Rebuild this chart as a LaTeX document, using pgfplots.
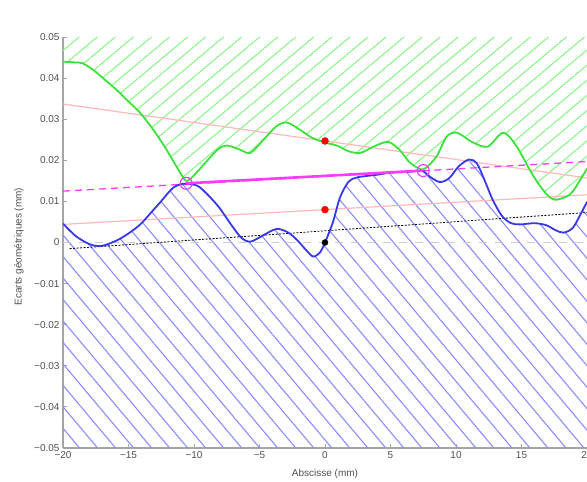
\documentclass[border=0pt]{standalone}
\usepackage{pgfplots}
\pgfplotsset{compat=1.18}
\usepgfplotslibrary{fillbetween}
\usetikzlibrary{patterns.meta}
\usepackage{fontspec}
\setmainfont{Liberation Sans}
\definecolor{gcurve}{RGB}{60,225,60}
\definecolor{ghatch}{RGB}{140,245,140}
\definecolor{bcurve}{RGB}{55,55,235}
\definecolor{bhatch}{RGB}{140,140,250}
\definecolor{pinkline}{RGB}{255,185,185}
\definecolor{mag}{RGB}{250,60,250}
\definecolor{axgray}{RGB}{165,165,165}
\definecolor{tickgray}{RGB}{80,80,80}
\begin{document}
\begin{tikzpicture}
\begin{axis}[
  at={(0,0)}, anchor=south west,
  scale only axis, width=524pt, height=411pt,
  xmin=-20, xmax=20, ymin=-0.05, ymax=0.05,
  axis x line*=bottom, axis y line*=left,
  axis line style={draw=axgray, line width=1.2pt, -},
  tick style={draw=axgray, line width=0.8pt},
  tick align=inside, major tick length=4pt,
  xtick={-20,-15,-10,-5,0,5,10,15,20},
  xticklabels={−20,−15,−10,−5,0,5,10,15,20},
  ytick={-0.05,-0.04,-0.03,-0.02,-0.01,0,0.01,0.02,0.03,0.04,0.05},
  yticklabels={−0.05,−0.04,−0.03,−0.02,−0.01,0,0.01,0.02,0.03,0.04,0.05},
  scaled y ticks=false,
  ticklabel style={font=\fontsize{10}{12}\selectfont, text=tickgray},
  xlabel={Abscisse (mm)},
  ylabel={Ecarts géométriques (mm)},
  label style={font=\fontsize{10}{12}\selectfont, text=tickgray},
  xlabel style={at={(axis description cs:0.5,-0.063)}, anchor=center},
  ylabel style={at={(axis description cs:-0.084,0.49)}, anchor=center, rotate=0},
  clip=true,
]
\addplot[name path=top, draw=none, forget plot] coordinates {(-20,0.05) (20,0.05)};
\addplot[name path=bot, draw=none, forget plot] coordinates {(-20,-0.05) (20,-0.05)};
\addplot[name path=green, draw=none, smooth, forget plot] coordinates {
(-20,0.0440)(-19,0.0438)(-18.5,0.0436)(-17.7,0.0420)(-16.8,0.0396)(-15.9,0.0371)(-15,0.0343)(-14.1,0.0315)(-13.1,0.0274)(-12.1,0.0226)(-11.1,0.0172)(-10.6,0.0150)(-10.1,0.0160)(-9.3,0.0188)(-8.2,0.0226)(-7.5,0.0236)(-6.5,0.0226)(-5.7,0.0218)(-4.7,0.0250)(-3.7,0.0283)(-2.9,0.0292)(-1.9,0.0274)(-1.0,0.0255)(0,0.0243)(0.9,0.0236)(1.8,0.0222)(2.7,0.0218)(3.7,0.0233)(4.8,0.0245)(5.7,0.0225)(6.5,0.0194)(7.5,0.0178)(8.5,0.0209)(9.3,0.0258)(10.1,0.0267)(11.2,0.0245)(12.4,0.0233)(13.6,0.0267)(14.6,0.0235)(15.9,0.0162)(16.9,0.0118)(17.6,0.0104)(18.7,0.0117)(19.5,0.0153)(20,0.0180)};
\addplot[name path=blue, draw=none, smooth, forget plot] coordinates {
(-20,0.0046)(-19,0.0015)(-17.9,-0.0005)(-17,-0.0008)(-15.9,0.0005)(-15,0.0022)(-14.1,0.0044)(-13.3,0.0072)(-12.6,0.0097)(-11.6,0.0133)(-10.8,0.0143)(-10.2,0.0142)(-9.5,0.0133)(-8.2,0.0090)(-7.2,0.0045)(-6.4,0.0012)(-5.7,0.0002)(-4.8,0.0016)(-3.7,0.0033)(-2.8,0.0024)(-2.1,0.0005)(-1.4,-0.0020)(-0.9,-0.0034)(-0.4,-0.0025)(0,0.0000)(0.6,0.0049)(1.15,0.0110)(1.8,0.0148)(2.4,0.0158)(3.2,0.0162)(4.0,0.0165)(5.0,0.0170)(5.7,0.0171)(6.4,0.0172)(7.0,0.0174)(7.5,0.0173)(8.1,0.0158)(8.8,0.0147)(9.5,0.0157)(10.2,0.0185)(11.0,0.0202)(11.6,0.0192)(12.2,0.0150)(12.8,0.0104)(13.5,0.0065)(14.2,0.0047)(14.9,0.0044)(16.0,0.0047)(16.9,0.0042)(17.6,0.0030)(18.2,0.0024)(18.9,0.0035)(19.5,0.0068)(20,0.0099)};
\addplot[pattern={Lines[angle=40,distance=11.6pt,line width=1.1pt]}, pattern color=ghatch, draw=none, forget plot] fill between[of=green and top];
\addplot[pattern={Lines[angle=-50,distance=13.8pt,line width=1.1pt]}, pattern color=bhatch, draw=none, forget plot] fill between[of=blue and bot];
% pink lines
\addplot[pinkline, line width=1.2pt] coordinates {(-20,0.0337)(20,0.0157)};
\addplot[pinkline, line width=1.2pt] coordinates {(-20,0.0044)(20,0.0116)};
% zero line
\addplot[gray!40, line width=1pt, dash pattern=on 8pt off 8pt] coordinates {(-20,0)(20,0)};
% black dotted
\addplot[black, line width=0.8pt, dash pattern=on 2pt off 1.5pt] coordinates {(-19.5,-0.0015)(20,0.0073)};
% magenta
\addplot[mag, line width=1.3pt, dash pattern=on 7pt off 5pt] coordinates {(-20,0.0125)(20,0.0197)};
% curves
\addplot[gcurve, line width=1.8pt, smooth] coordinates {
(-20,0.0440)(-19,0.0438)(-18.5,0.0436)(-17.7,0.0420)(-16.8,0.0396)(-15.9,0.0371)(-15,0.0343)(-14.1,0.0315)(-13.1,0.0274)(-12.1,0.0226)(-11.1,0.0172)(-10.6,0.0150)(-10.1,0.0160)(-9.3,0.0188)(-8.2,0.0226)(-7.5,0.0236)(-6.5,0.0226)(-5.7,0.0218)(-4.7,0.0250)(-3.7,0.0283)(-2.9,0.0292)(-1.9,0.0274)(-1.0,0.0255)(0,0.0243)(0.9,0.0236)(1.8,0.0222)(2.7,0.0218)(3.7,0.0233)(4.8,0.0245)(5.7,0.0225)(6.5,0.0194)(7.5,0.0178)(8.5,0.0209)(9.3,0.0258)(10.1,0.0267)(11.2,0.0245)(12.4,0.0233)(13.6,0.0267)(14.6,0.0235)(15.9,0.0162)(16.9,0.0118)(17.6,0.0104)(18.7,0.0117)(19.5,0.0153)(20,0.0180)};
\addplot[bcurve, line width=1.8pt, smooth] coordinates {
(-20,0.0046)(-19,0.0015)(-17.9,-0.0005)(-17,-0.0008)(-15.9,0.0005)(-15,0.0022)(-14.1,0.0044)(-13.3,0.0072)(-12.6,0.0097)(-11.6,0.0133)(-10.8,0.0143)(-10.2,0.0142)(-9.5,0.0133)(-8.2,0.0090)(-7.2,0.0045)(-6.4,0.0012)(-5.7,0.0002)(-4.8,0.0016)(-3.7,0.0033)(-2.8,0.0024)(-2.1,0.0005)(-1.4,-0.0020)(-0.9,-0.0034)(-0.4,-0.0025)(0,0.0000)(0.6,0.0049)(1.15,0.0110)(1.8,0.0148)(2.4,0.0158)(3.2,0.0162)(4.0,0.0165)(5.0,0.0170)(5.7,0.0171)(6.4,0.0172)(7.0,0.0174)(7.5,0.0173)(8.1,0.0158)(8.8,0.0147)(9.5,0.0157)(10.2,0.0185)(11.0,0.0202)(11.6,0.0192)(12.2,0.0150)(12.8,0.0104)(13.5,0.0065)(14.2,0.0047)(14.9,0.0044)(16.0,0.0047)(16.9,0.0042)(17.6,0.0030)(18.2,0.0024)(18.9,0.0035)(19.5,0.0068)(20,0.0099)};
\addplot[mag, line width=2.6pt] coordinates {(-10.6,0.0144)(7.5,0.0175)};
\addplot[only marks, mark=o, mark size=6pt, mag, mark options={line width=1.2pt}] coordinates {(-10.6,0.0144)(7.5,0.0175)};
\addplot[only marks, mark=*, mark size=3.5pt, red] coordinates {(0,0.0247)(0,0.0080)};
\addplot[only marks, mark=*, mark size=3pt, black] coordinates {(0,0)};
\end{axis}
\pgfresetboundingbox
\path[use as bounding box] (-63pt,-34pt) rectangle (524pt,448pt);
\end{tikzpicture}
\end{document}
